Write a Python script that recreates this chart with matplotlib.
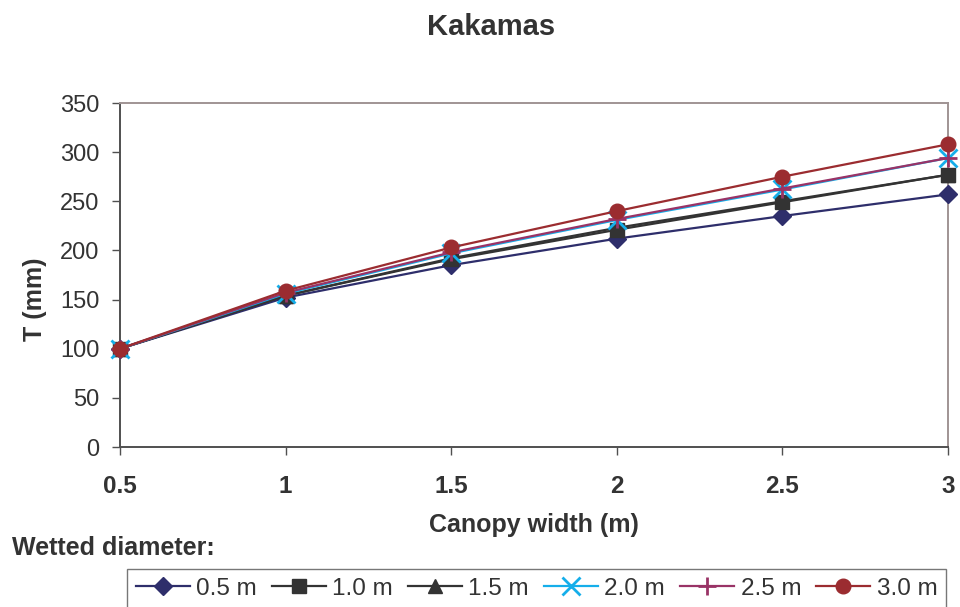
import matplotlib
matplotlib.use("Agg")
import matplotlib.pyplot as plt

plt.rcParams['font.family'] = ['Liberation Sans', 'DejaVu Sans']

canopy_width = [0.5, 1.0, 1.5, 2.0, 2.5, 3.0]
series_labels = ["0.5 m", "1.0 m", "1.5 m", "2.0 m", "2.5 m", "3.0 m"]
t_05 = [100, 152, 185, 212, 235, 257]
t_10 = [100, 154, 191, 221, 249, 277]
t_15 = [100, 154, 192, 223, 250, 277]
t_20 = [100, 156, 197, 231, 262, 294]
t_25 = [100, 157, 198, 232, 263, 294]
t_30 = [100, 159, 203, 240, 275, 308]
series = [t_05, t_10, t_15, t_20, t_25, t_30]

colors = ['#2E2E6B', '#333333', '#333333', '#15AEEA', '#993366', '#9B2C30']
markers = ['D', 's', '^', 'x', '+', 'o']
msizes = [9, 10, 10, 13, 13, 10.5]
mews = [1, 1, 1, 2, 2, 1]

TXT = '#333333'

fig = plt.figure(figsize=(9.6, 6.07), dpi=100)
ax = fig.add_axes([120/960, 1-447/607, (948-120)/960, (447-103)/607])

for vals, c, m, ms, mew, lab in zip(series, colors, markers, msizes, mews, series_labels):
    ax.plot(canopy_width, vals, color=c, lw=1.6, marker=m, markersize=ms,
            markeredgewidth=mew, markerfacecolor=c, markeredgecolor=c,
            label=lab, clip_on=False, zorder=3)

ax.set_xlim(0.5, 3.0)
ax.set_ylim(0, 350)
ax.set_xticks(canopy_width)
ax.set_xticklabels(["0.5", "1", "1.5", "2", "2.5", "3"])
ax.set_yticks(range(0, 351, 50))

for s in ['left', 'bottom']:
    ax.spines[s].set_color('#505050')
    ax.spines[s].set_linewidth(1.4)
for s in ['top', 'right']:
    ax.spines[s].set_color('#A09494')
    ax.spines[s].set_linewidth(1.4)

ax.tick_params(axis='y', direction='out', length=6, width=1, color='#505050',
               labelsize=17, labelcolor=TXT, pad=9)
ax.tick_params(axis='x', direction='out', length=6, width=1, color='#505050',
               labelsize=17.5, labelcolor=TXT, pad=14)
for lbl in ax.get_xticklabels():
    lbl.set_fontweight('bold')

fig.text(491/960, 1-27/607, "Kakamas", ha='center', va='center',
         fontsize=21, fontweight='bold', color=TXT)
fig.text(534/960, 1-525/607, "Canopy width (m)", ha='center', va='center',
         fontsize=18, fontweight='bold', color=TXT)
fig.text(35/960, 1-299/607, "T (mm)", ha='center', va='center', rotation=90,
         fontsize=18, fontweight='bold', color=TXT)
fig.text(12/960, 1-548/607, "Wetted diameter:", ha='left', va='center',
         fontsize=18, fontweight='bold', color=TXT)

leg = fig.legend(loc='upper left', bbox_to_anchor=(127/960, 1-569/607),
                 ncol=6, fontsize=17.5, frameon=True, fancybox=False,
                 borderaxespad=0, borderpad=0.35, handlelength=2.25,
                 handletextpad=0.25, columnspacing=0.6, labelcolor=TXT)
leg.get_frame().set_edgecolor('#555555')
leg.get_frame().set_linewidth(1.0)

fig.savefig("out.png", dpi=100)
